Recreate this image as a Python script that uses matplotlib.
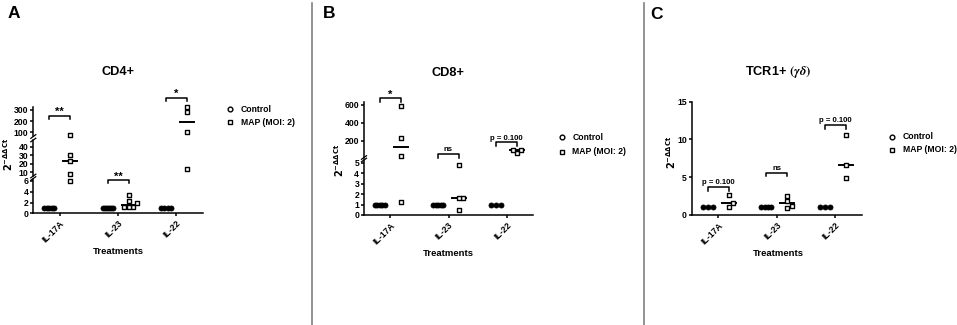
import numpy as np
import matplotlib
matplotlib.use('Agg')
import matplotlib.pyplot as plt
from matplotlib.lines import Line2D

plt.rcParams['font.family'] = ['Liberation Sans', 'DejaVu Sans']
plt.rcParams['font.weight'] = 'bold'
plt.rcParams['mathtext.fontset'] = 'dejavusans'

# ---------------- data ----------------
categories = ['IL-17A', 'IL-23', 'IL-22']
legend_labels = ['Control', 'MAP (MOI: 2)']
x_title = 'Treatments'
y_title = r'$\mathbf{2^{-\Delta\Delta Ct}}$'

cd4_title = 'CD4+'
cd4_control = [[1, 1, 1, 1, 1], [1, 1, 1, 1, 1, 1], [1, 1, 1, 1]]
cd4_map = [[75, 30, 23, 8, 6], [3.35, 2.25, 1.85, 1.15, 1.12, 1.1], [330, 280, 100, 14]]
cd4_sig = ['**', '**', '*']

cd8_title = 'CD8+'
cd8_control = [[1, 1, 1, 1, 1], [1, 1, 1, 1, 1], [1, 1, 1]]
cd8_map = [[590, 235, 25, 1.2], [4.75, 1.65, 1.6, 0.5], [63, 92, 95]]
cd8_sig = ['*', 'ns', 'p = 0.100']

tcr_title = 'TCR1+ $(\\gamma\\delta)$'
tcr_control = [[1, 1, 1], [1, 1, 1, 1], [1, 1, 1]]
tcr_map = [[2.7, 1.55, 1.1], [2.55, 1.85, 1.25, 0.97], [10.6, 6.6, 4.95]]
tcr_sig = ['p = 0.100', 'ns', 'p = 0.100']

# ---------------- layout (pixels) ----------------
W, H = 957, 325
fig = plt.figure(figsize=(W / 100, H / 100), dpi=100)


def add_ax(x0, x1, ytop, ybot):
    return fig.add_axes([x0 / W, 1 - ybot / H, (x1 - x0) / W, (ybot - ytop) / H])


def fig_line(xs, ys, **kw):
    fig.add_artist(Line2D([x / W for x in xs], [1 - y / H for y in ys],
                          transform=fig.transFigure, **kw))


layout = [
    dict(letter='A', letter_xy=(13.5, 13.5), title=cd4_title, title_xy=(118, 72), x0=33.3, x1=203,
         segs=[((0, 6.46), 178.5, 213.3, [0, 2, 4, 6]),
               ((5.66, 47.9), 140, 176, [10, 20, 30, 40]),
               ((62.3, 329.6), 106.7, 136.5, [100, 200, 300])],
         control=cd4_control, mapv=cd4_map, sig=cd4_sig, sig_y=[249, 6.19, 410],
         ylabel_xy=(8.5, 154), treat_xy=(118, 252), legend_xy=(230, 109), legend_dy=13.3),
    dict(letter='B', letter_xy=(329, 13.5), title=cd8_title, title_xy=(448, 73), x0=364, x1=533,
         segs=[((0, 5.26), 160, 215, [0, 1, 2, 3, 4, 5]),
               ((11.8, 633.6), 102, 157.5, [200, 400, 600])],
         control=cd8_control, mapv=cd8_map, sig=cd8_sig, sig_y=[675, 51, 182],
         ylabel_xy=(339.5, 160), treat_xy=(448, 253), legend_xy=(562, 137.3), legend_dy=14.4),
    dict(letter='C', letter_xy=(656.5, 14.5), title=tcr_title, title_xy=(778, 72), x0=691.7, x1=861.7,
         segs=[((0, 15), 101.7, 215, [0, 5, 10, 15])],
         control=tcr_control, mapv=tcr_map, sig=tcr_sig, sig_y=[3.7, 5.6, 11.9],
         ylabel_xy=(671.5, 152), treat_xy=(778, 253), legend_xy=(892.3, 136.7), legend_dy=13.3),
]

XL = (-0.455, 2.455)
CTRL_OFF, MAP_OFF, MED_HW = -0.18, 0.18, 0.12
LW = 1.1


def pick(axes, v):
    for ax in axes:
        if v <= ax.get_ylim()[1]:
            return ax
    return axes[-1]


def ypix(axes, v):
    return pick(axes, v).transData.transform((0, v))[1]


def swarm(axes, vals, d):
    order = np.argsort(vals)
    offs = np.zeros(len(vals))
    placed = []
    for i in order:
        y = ypix(axes, vals[i])
        c = 0.0
        for k in range(80):
            c = ((k + 1) // 2) * d * (1 if k % 2 else -1)
            if all((c - px) ** 2 + (y - py) ** 2 >= d * d * 0.98 for px, py in placed):
                break
        placed.append((c, y))
        offs[i] = c
    return offs


for p in layout:
    axes = []
    for i, (ylim, yt, yb, ticks) in enumerate(p['segs']):
        ax = add_ax(p['x0'], p['x1'], yt, yb)
        ax.set_xlim(*XL)
        ax.set_ylim(*ylim)
        ax.set_yticks(ticks)
        ax.patch.set_visible(False)
        for s in ['top', 'right']:
            ax.spines[s].set_visible(False)
        ax.spines['left'].set_linewidth(LW)
        ax.tick_params(axis='y', length=2.5, width=LW, pad=1, labelsize=6.2)
        if i == 0:
            ax.spines['bottom'].set_linewidth(LW)
            ax.set_xticks(range(len(categories)))
            ax.set_xticklabels(categories, rotation=45, ha='right', rotation_mode='anchor', fontsize=6.3)
            ax.tick_params(axis='x', length=2.5, width=LW, pad=1.5)
        else:
            ax.spines['bottom'].set_visible(False)
            ax.set_xticks([])
        axes.append(ax)

    base = axes[0]
    upx = base.transData.transform((1, 0))[0] - base.transData.transform((0, 0))[0]

    for ci, cat in enumerate(categories):
        # control
        cv = np.array(p['control'][ci], dtype=float)
        n = len(cv)
        offs = np.linspace(-5, 5, n) if n > 1 else np.zeros(1)
        for v, o in zip(cv, offs):
            pick(axes, v).scatter(ci + CTRL_OFF + o / upx, v, s=13, marker='o', facecolor='black',
                                  edgecolor='black', linewidth=0.6, clip_on=False, zorder=3)
        # MAP
        mv = np.array(p['mapv'][ci], dtype=float)
        offs = swarm(axes, mv, 4.4)
        for v, o in zip(mv, offs):
            pick(axes, v).scatter(ci + MAP_OFF + o / upx, v, s=11, marker='s', facecolor='white',
                                  edgecolor='black', linewidth=1.0, clip_on=False, zorder=3)
        med = np.median(mv)
        pick(axes, med).plot([ci + MAP_OFF - MED_HW, ci + MAP_OFF + MED_HW], [med, med],
                             color='black', lw=1.4, clip_on=False, zorder=2)
        # significance bracket
        yb_ = p['sig_y'][ci]
        bax = pick(axes, yb_)
        ydisp = bax.transData.transform((0, yb_))[1]
        ylow = bax.transData.inverted().transform((0, ydisp - 3.5))[1]
        x1, x2 = ci + CTRL_OFF, ci + MAP_OFF
        bax.plot([x1, x1, x2, x2], [ylow, yb_, yb_, ylow], color='black', lw=1.1, clip_on=False)
        txt = p['sig'][ci]
        star = set(txt) == {'*'}
        bax.annotate(txt, xy=((x1 + x2) / 2, yb_), xytext=(0, 0.5 if star else 2.8),
                     textcoords='offset pixels', ha='center', va='baseline',
                     fontsize=8 if star else 5.6, annotation_clip=False)

    # break marks
    segs = p['segs']
    for i in range(len(segs) - 1):
        for y in (segs[i][1], segs[i + 1][2]):
            fig_line([p['x0'] - 2.5, p['x0'] + 2.5], [y + 1.8, y - 1.8], color='black', lw=0.9)

    fig.text(p['letter_xy'][0] / W, 1 - p['letter_xy'][1] / H, p['letter'], fontsize=12.5,
             ha='center', va='center', weight='bold')
    fig.text(p['title_xy'][0] / W, 1 - p['title_xy'][1] / H, p['title'], fontsize=9.2,
             ha='center', va='center', weight='bold', math_fontfamily='stix')
    fig.text(p['treat_xy'][0] / W, 1 - p['treat_xy'][1] / H, x_title, fontsize=6.8,
             ha='center', va='center', weight='bold')
    fig.text(p['ylabel_xy'][0] / W, 1 - p['ylabel_xy'][1] / H, y_title, fontsize=7,
             rotation=90, ha='center', va='center')
    lx, ly = p['legend_xy']
    for k, (lab, mk) in enumerate(zip(legend_labels, ['o', 's'])):
        yy = ly + k * p['legend_dy']
        fig_line([lx], [yy], marker=mk, ms=3.4, mfc='white', mec='black', mew=1.0, ls='none')
        fig.text((lx + 10.5) / W, 1 - yy / H, lab, fontsize=6.2, ha='left', va='center', weight='bold')

for xd in (311.5, 644):
    fig_line([xd, xd], [3, 325], color='#808080', lw=1.2)

fig.savefig('out.png', dpi=100)
